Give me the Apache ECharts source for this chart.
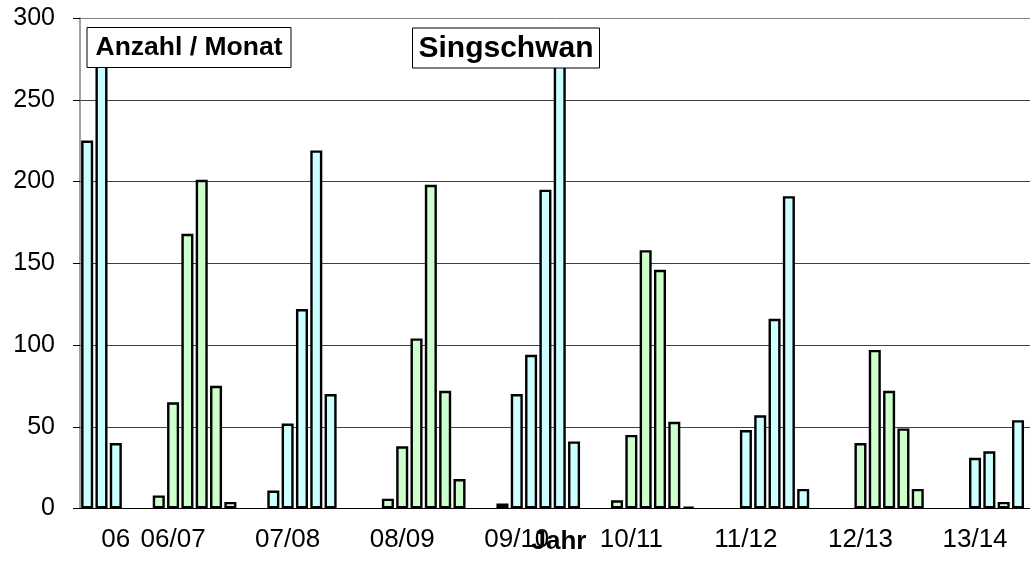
<!DOCTYPE html>
<html>
<head>
<meta charset="utf-8">
<script src="https://cdn.jsdelivr.net/npm/echarts@6/dist/echarts.min.js"></script>
<style>
html,body{margin:0;padding:0;background:#fff;}
#chart{width:1030px;height:563px;}
</style>
</head>
<body>
<div id="chart"></div>
<script>
// Season labels (one per season block)
const seasonLabels = ['06', '06/07', '07/08', '08/09', '09/10', '10/11', '11/12', '12/13', '13/14'];
// Monthly counts per season (null = no bar)
const s06   = [225, 280, 40, null];
const s0607 = [null, 8, 65, 168, 201, 75, 4, null];
const s0708 = [null, 11, 52, 122, 219, 70, null, null];
const s0809 = [null, 6, 38, 104, 198, 72, 18, null];
const s0910 = [null, 3, 70, 94, 195, 280, 41, null];
const s1011 = [null, 5, 45, 158, 146, 53, 1, null];
const s1112 = [null, null, 48, 57, 116, 191, 12, null];
const s1213 = [null, null, 40, 97, 72, 49, 12, null];
const s1314 = [null, null, 31, 35, 4, 54, null, null];
const seasonValues = [s06, s0607, s0708, s0809, s0910, s1011, s1112, s1213, s1314];
// Position of the label inside each season block
const labelOffset = 2;
// Y axis
const yMin = 0, yMax = 300, yStep = 50;
const seasonColors = ['#CCFFFF', '#CCFFCC'];

const categories = [];
const barData = [];
seasonValues.forEach((vals, si) => {
  vals.forEach((v, mi) => {
    categories.push(mi === labelOffset ? seasonLabels[si] : '');
    barData.push({
      value: v === null ? '-' : v,
      itemStyle: { color: seasonColors[si % 2] }
    });
  });
});

const chart = echarts.init(document.getElementById('chart'), null, { renderer: 'canvas' });
const FONT = 'Liberation Sans, Arial, sans-serif';
chart.setOption({
  animation: false,
  backgroundColor: '#fff',
  grid: { left: 80, top: 18, bottom: 54.5, right: -23.8, containLabel: false, outerBoundsMode: 'none' },
  xAxis: {
    type: 'category',
    data: categories,
    boundaryGap: true,
    axisLine: { show: true, lineStyle: { color: '#000', width: 1 } },
    axisTick: { show: false },
    axisLabel: { interval: 0, color: '#000', fontSize: 26, fontFamily: FONT, margin: 18 },
    splitLine: { show: false }
  },
  yAxis: {
    type: 'value',
    min: yMin, max: yMax, interval: yStep,
    axisLine: { show: true, lineStyle: { color: '#808080', width: 1.5 } },
    axisTick: { show: true, length: 7, inside: false, lineStyle: { color: '#000', width: 1 } },
    axisLabel: { color: '#000', fontSize: 25, fontFamily: FONT, margin: 25 },
    splitLine: { show: true, lineStyle: { color: ['#404040', '#404040', '#404040', '#404040', '#404040', '#404040', '#808080'], width: 1 } }
  },
  series: [{
    type: 'bar',
    data: barData,
    barWidth: '84%',
    itemStyle: { borderColor: '#000', borderWidth: 2.4 },
    clip: true
  }],
  graphic: [
    {
      type: 'group', z: 100,
      children: [
        { type: 'rect', z: 100, shape: { x: 87, y: 27.5, width: 204, height: 40 },
          style: { fill: '#fff', stroke: '#000', lineWidth: 1 } },
        { type: 'text', z: 101, x: 189, y: 48,
          style: { text: 'Anzahl / Monat', fill: '#000', font: 'bold 26.5px ' + FONT, textAlign: 'center', textVerticalAlign: 'middle' } },
        { type: 'rect', z: 100, shape: { x: 412.5, y: 28, width: 187, height: 40 },
          style: { fill: '#fff', stroke: '#000', lineWidth: 1 } },
        { type: 'text', z: 101, x: 506, y: 48.5,
          style: { text: 'Singschwan', fill: '#000', font: 'bold 30px ' + FONT, textAlign: 'center', textVerticalAlign: 'middle' } },
        { type: 'text', z: 101, x: 559, y: 542,
          style: { text: 'Jahr', fill: '#000', font: 'bold 26px ' + FONT, textAlign: 'center', textVerticalAlign: 'middle' } }
      ]
    }
  ]
});
</script>
</body>
</html>
